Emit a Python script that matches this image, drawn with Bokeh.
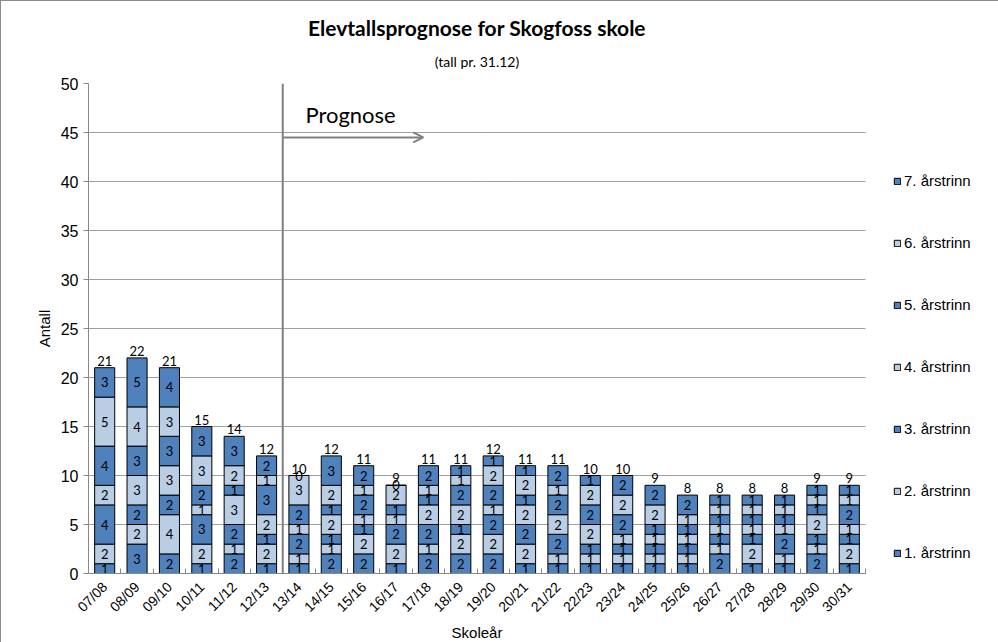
import numpy as np
from math import pi
from bokeh.plotting import figure
from bokeh.models import (ColumnDataSource, Range1d, FixedTicker, Span, Arrow,
                          OpenHead, Label, Legend, LegendItem, Title)
from bokeh.core.properties import value
from bokeh.embed import file_html
from bokeh.resources import INLINE

years = ["07/08", "08/09", "09/10", "10/11", "11/12", "12/13", "13/14", "14/15",
         "15/16", "16/17", "17/18", "18/19", "19/20", "20/21", "21/22", "22/23",
         "23/24", "24/25", "25/26", "26/27", "27/28", "28/29", "29/30", "30/31"]
grade_names = ["1. årstrinn", "2. årstrinn", "3. årstrinn", "4. årstrinn",
               "5. årstrinn", "6. årstrinn", "7. årstrinn"]
g1 = [1, 3, 2, 1, 2, 1, 1, 2, 2, 1, 2, 2, 2, 1, 1, 1, 1, 1, 1, 2, 1, 1, 2, 1]
g2 = [2, 2, 4, 2, 1, 2, 1, 1, 2, 2, 1, 2, 2, 2, 1, 1, 1, 1, 1, 1, 2, 1, 1, 2]
g3 = [4, 2, 2, 3, 2, 1, 2, 1, 1, 2, 2, 1, 2, 2, 2, 1, 1, 1, 1, 1, 1, 2, 1, 1]
g4 = [2, 3, 3, 1, 3, 2, 1, 2, 1, 1, 2, 2, 1, 2, 2, 2, 1, 1, 1, 1, 1, 1, 2, 1]
g5 = [4, 3, 3, 2, 1, 3, 2, 1, 2, 1, 1, 2, 2, 1, 2, 2, 2, 1, 1, 1, 1, 1, 1, 2]
g6 = [5, 4, 3, 3, 2, 1, 3, 2, 1, 2, 1, 1, 2, 2, 1, 2, 2, 2, 1, 1, 1, 1, 1, 1]
g7 = [3, 5, 4, 3, 3, 2, 0, 3, 2, 0, 2, 1, 1, 1, 2, 1, 2, 2, 2, 1, 1, 1, 1, 1]
y_ticks = [0, 5, 10, 15, 20, 25, 30, 35, 40, 45, 50]
forecast_start = "13/14"
forecast_arrow_end = 10.34
forecast_arrow_y = 44.5
forecast_text = "Prognose"
title_text = "Elevtallsprognose for Skogfoss skole"
subtitle_text = "(tall pr. 31.12)"

DARK = "#4F81BD"
LIGHT = "#B9CDE5"
colors = [DARK, LIGHT, DARK, LIGHT, DARK, LIGHT, DARK]

grades = [g1, g2, g3, g4, g5, g6, g7]
keys = ["g%d" % (i + 1) for i in range(7)]
xs = np.arange(len(years)) + 0.5
data = {"x": xs}
for k, g in zip(keys, grades):
    data[k] = g
source = ColumnDataSource(data)

p = figure(frame_width=777, frame_height=490, x_range=Range1d(0, len(years)),
           y_range=Range1d(0, 50), output_backend="svg", toolbar_location=None,
           title=None, min_border_left=87, min_border_top=82,
           min_border_right=118, min_border_bottom=54)
p.styles = {"border": "1px solid #8c8c8c"}
p.outline_line_color = None
p.background_fill_color = "white"

renderers = p.vbar_stack(keys, x="x", width=0.62, source=source, color=colors,
                         line_color="black", line_width=1)

# segment labels
arr = np.array(grades, dtype=float)
cum = np.cumsum(arr, axis=0)
mids = cum - arr / 2.0
lx, ly, lt = [], [], []
for gi in range(7):
    for bi in range(len(years)):
        lx.append(xs[bi]); ly.append(mids[gi, bi]); lt.append(str(grades[gi][bi]))
p.text(x=lx, y=ly, text=lt, text_align="center", text_baseline="middle",
       text_font=value("Lato"), text_font_size="13px", text_color="black")

totals = cum[-1]
p.text(x=list(xs), y=list(totals), text=[str(int(t)) for t in totals],
       text_align="center", text_baseline="bottom", y_offset=-2,
       text_font=value("Lato"), text_font_size="13px", text_color="black")

# forecast marker
fx = years.index(forecast_start)
p.add_layout(Span(location=fx, dimension="height", line_color="#808080", line_width=2))
p.add_layout(Arrow(end=OpenHead(size=10, line_color="#808080", line_width=2),
                   x_start=fx, y_start=forecast_arrow_y, x_end=forecast_arrow_end,
                   y_end=forecast_arrow_y, line_color="#808080", line_width=2))
p.add_layout(Label(x=fx + 0.7, y=forecast_arrow_y + 1.0, text=forecast_text,
                   text_font="Lato", text_font_size="22px", text_color="black",
                   text_baseline="bottom"))

# titles
p.add_layout(Title(text=subtitle_text, align="center", offset=20, text_font="Lato",
                   text_font_size="14px", text_font_style="normal", text_color="black",
                   vertical_align="middle", standoff=25), "above")
p.add_layout(Title(text=title_text, align="center", offset=20,
                   text_font="Lato", text_font_size="21px", text_font_style="bold",
                   text_color="black", standoff=0), "above")

# axes
p.yaxis.ticker = FixedTicker(ticks=y_ticks)
p.yaxis.axis_label = "Antall"
p.yaxis.axis_label_text_font = "Liberation Sans"
p.yaxis.axis_label_text_font_size = "15px"
p.yaxis.axis_label_text_font_style = "normal"
p.yaxis.axis_label_text_color = "black"
p.yaxis.major_label_text_font = "Liberation Sans"
p.yaxis.major_label_text_font_size = "16px"
p.yaxis.major_label_text_color = "black"
p.yaxis.axis_line_color = "#888888"
p.yaxis.major_tick_line_color = "#888888"
p.yaxis.major_tick_out = 5
p.yaxis.major_tick_in = 0
p.yaxis.minor_tick_line_color = None

p.xaxis.ticker = FixedTicker(ticks=list(xs), minor_ticks=list(range(len(years) + 1)))
p.xaxis.major_label_overrides = {float(x): y for x, y in zip(xs, years)}
p.xaxis.major_label_orientation = pi / 4
p.xaxis.major_label_text_font = "Liberation Sans"
p.xaxis.major_label_text_font_size = "14px"
p.xaxis.major_label_text_color = "black"
p.xaxis.axis_label = "Skoleår"
p.xaxis.axis_label_text_font = "Liberation Sans"
p.xaxis.axis_label_text_font_size = "15px"
p.xaxis.axis_label_text_font_style = "normal"
p.xaxis.axis_label_text_color = "black"
p.xaxis.axis_label_standoff = 0
p.xaxis.axis_line_color = "#888888"
p.xaxis.major_tick_line_color = None
p.xaxis.minor_tick_line_color = "#888888"
p.xaxis.minor_tick_in = 5
p.xaxis.minor_tick_out = 0

p.xgrid.grid_line_color = None
p.ygrid.ticker = FixedTicker(ticks=y_ticks[1:])
p.ygrid.grid_line_color = "#404040"
p.ygrid.grid_line_dash = "1 1"
p.ygrid.grid_line_width = 1

items = [LegendItem(label=grade_names[i], renderers=[renderers[i]]) for i in range(6, -1, -1)]
legend = Legend(items=items, location=(28, 12), glyph_width=8, glyph_height=8,
                label_height=14, spacing=45, padding=0, margin=0, label_standoff=3,
                label_text_font="Liberation Sans", label_text_font_size="15px",
                label_text_color="black",
                border_line_color=None, background_fill_alpha=0)
p.add_layout(legend, "right")

open("out.html", "w").write(file_html(p, INLINE))
